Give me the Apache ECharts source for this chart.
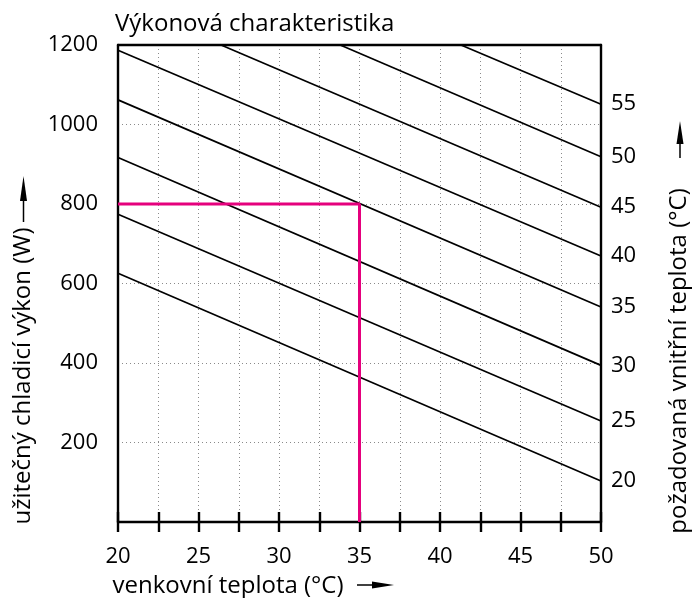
<!DOCTYPE html>
<html>
<head>
<meta charset="utf-8">
<script src="https://cdn.jsdelivr.net/npm/echarts@6/dist/echarts.min.js"></script>
<style>
html,body{margin:0;padding:0;background:#fff;}
#chart{width:693px;height:598px;}
</style>
</head>
<body>
<div id="chart"></div>
<script>
// ---- data ----
const innerTemps = [20, 25, 30, 35, 40, 45, 50, 55];          // required inner temperature (°C)
const lineStartX = [20, 20, 20, 20, 20, 26.4, 33.8, 41.3];     // outdoor temp where each line enters the plot
const lineStartY = [626, 774, 917, 1062, 1187, 1200, 1200, 1200]; // cooling power at that point (W)
const lineEndX   = [50, 50, 50, 50, 50, 50, 50, 50];
const lineEndY   = [103, 254, 394, 541, 669, 792, 919, 1051];  // cooling power at 50 °C (W)
const exampleX   = [20, 35, 35];                               // magenta example path
const exampleY   = [800, 800, 0];
const xTickLabels = [20, 25, 30, 35, 40, 45, 50];
const yTickLabels = [200, 400, 600, 800, 1000, 1200];

const FONT = 'Open Sans';
const FS = 22;   // tick labels
const FN = 24;   // title / axis names
const chart = echarts.init(document.getElementById('chart'), null, {renderer: 'canvas'});

const series = innerTemps.map((t, i) => ({
  type: 'line',
  xAxisIndex: 0, yAxisIndex: 0,
  data: [[lineStartX[i], lineStartY[i]], [lineEndX[i], lineEndY[i]]],
  symbol: 'none',
  lineStyle: {color: '#000', width: 1.7},
  silent: true,
  z: 3,
  endLabel: {show: true, formatter: String(t), distance: 10, color: '#000',
             fontSize: FS, fontFamily: FONT}
}));
series.push({
  type: 'line',
  data: exampleX.map((x, i) => [x, exampleY[i]]),
  symbol: 'none',
  lineStyle: {color: '#e5007d', width: 3},
  silent: true,
  z: 5
});

const dotted = {show: true, lineStyle: {color: '#8a8a8a', type: [1, 3], width: 1}};

chart.setOption({
  animation: false,
  backgroundColor: '#fff',
  title: {
    text: 'Výkonová charakteristika', left: 110, top: 7,
    textStyle: {fontFamily: FONT, fontSize: FN, fontWeight: 'normal', color: '#000'}
  },
  grid: {left: 118, top: 45, width: 483, height: 477},
  xAxis: [
    {type: 'value', position: 'bottom', min: 20, max: 50, interval: 2.5,
     axisLine: {show: true, onZero: false, lineStyle: {color: '#000', width: 2.4}},
     axisTick: {show: true, inside: false, length: 10, lineStyle: {color: '#000', width: 2.4}},
     axisLabel: {margin: 24, color: '#000', fontSize: FS, fontFamily: FONT,
       formatter: v => xTickLabels.indexOf(v) >= 0 ? String(v) : ''},
     splitLine: dotted},
    {type: 'value', position: 'bottom', min: 20, max: 50, interval: 2.5,
     axisLine: {show: false},
     axisTick: {show: true, inside: true, length: 10, lineStyle: {color: '#000', width: 2.4}},
     axisLabel: {show: false}, splitLine: {show: false}},
    {type: 'value', position: 'top', min: 20, max: 50,
     axisLine: {show: true, onZero: false, lineStyle: {color: '#000', width: 2.4}},
     axisTick: {show: false}, axisLabel: {show: false}, splitLine: {show: false}}
  ],
  yAxis: [
    {type: 'value', position: 'left', min: 0, max: 1200, interval: 200,
     axisLine: {show: true, onZero: false, lineStyle: {color: '#000', width: 2.4}},
     axisTick: {show: false},
     axisLabel: {margin: 20, color: '#000', fontSize: FS, fontFamily: FONT,
       formatter: v => yTickLabels.indexOf(v) >= 0 ? String(v) : ''},
     splitLine: dotted},
    {type: 'value', position: 'right', min: 0, max: 1200,
     axisLine: {show: true, onZero: false, lineStyle: {color: '#000', width: 2.4}},
     axisTick: {show: false}, axisLabel: {show: false}, splitLine: {show: false}}
  ],
  graphic: [
    // left axis name + arrow
    {type: 'text', x: 23, y: 376, rotation: Math.PI / 2,
     style: {text: 'užitečný chladicí výkon (W)', fontSize: FN, fontFamily: FONT,
             fill: '#000', align: 'center', verticalAlign: 'middle'}},
    {type: 'line', shape: {x1: 23.5, y1: 222, x2: 23.5, y2: 198},
     style: {stroke: '#000', lineWidth: 1.5}},
    {type: 'polygon', shape: {points: [[23.5, 176], [20, 201], [27, 201]]},
     style: {fill: '#000'}},
    // right axis name + arrow
    {type: 'text', x: 679, y: 361, rotation: Math.PI / 2,
     style: {text: 'požadovaná vnitřní teplota (°C)', fontSize: FN, fontFamily: FONT,
             fill: '#000', align: 'center', verticalAlign: 'middle'}},
    {type: 'line', shape: {x1: 680, y1: 158, x2: 680, y2: 141},
     style: {stroke: '#000', lineWidth: 1.5}},
    {type: 'polygon', shape: {points: [[680, 121], [676.5, 144], [683.5, 144]]},
     style: {fill: '#000'}},
    // bottom axis name + arrow
    {type: 'text', x: 228, y: 586,
     style: {text: 'venkovní teplota (°C)', fontSize: FN, fontFamily: FONT,
             fill: '#000', align: 'center', verticalAlign: 'middle'}},
    {type: 'line', shape: {x1: 357, y1: 585, x2: 376, y2: 585},
     style: {stroke: '#000', lineWidth: 1.5}},
    {type: 'polygon', shape: {points: [[394, 585], [372, 581.5], [372, 588.5]]},
     style: {fill: '#000'}}
  ],
  series: series
});
</script>
</body>
</html>
